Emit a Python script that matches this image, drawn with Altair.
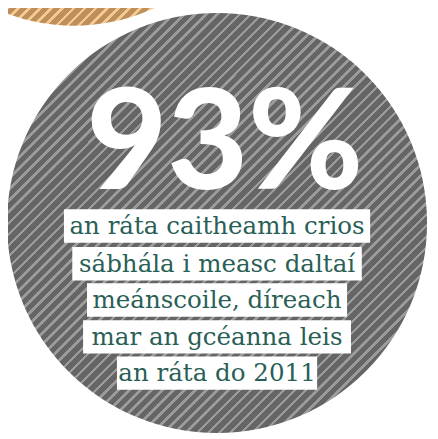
import altair as alt
import pandas as pd

# ---- content ----
headline_value = [93]
headline_suffix = ["%"]
text_lines = [
    "an ráta caitheamh crios",
    "sábhála i measc daltaí",
    "meánscoile, díreach",
    "mar an gcéanna leis",
    "an ráta do 2011",
]

# ---- layout constants (chart pixel space) ----
W, H = 430, 431
box_widths = [312, 295, 265, 273, 204]
line_centers = [218, 256.5, 293.5, 331, 368]
box_h = 34
text_cx = 213

def stripe_gradient(dark, light, n, light_frac, x2=1, y2=1):
    stops = []
    for i in range(n):
        a = i / n
        b = (i + light_frac) / n
        c = (i + 1) / n
        stops += [
            alt.GradientStop(color=light, offset=a),
            alt.GradientStop(color=light, offset=b),
            alt.GradientStop(color=dark, offset=b),
            alt.GradientStop(color=dark, offset=min(c, 1.0)),
        ]
    return alt.Gradient(gradient="linear", stops=stops, x1=0, y1=0, x2=x2, y2=y2)

xs = alt.Scale(domain=[0, W], range=[0, W])
ys = alt.Scale(domain=[0, H], range=[0, H])

one = pd.DataFrame({"v": [1]})

orange = alt.Chart(one).mark_point(
    shape="circle", filled=True, opacity=1, strokeWidth=0,
    fill=stripe_gradient("#bf8f5b", "#f3ca90", 69, 0.33),
).encode(x=alt.value(67), y=alt.value(-181), size=alt.value(390 ** 2))

grey = alt.Chart(one).mark_point(
    shape="circle", filled=True, opacity=1, strokeWidth=0,
    fill=stripe_gradient("#656565", "#9b9b9b", 76, 0.33),
).encode(x=alt.value(213), y=alt.value(215), size=alt.value(428 ** 2))

head = pd.DataFrame({"v": headline_value, "s": headline_suffix})
headline = alt.Chart(head).transform_calculate(
    label="format(datum.v, 'd') + datum.s"
).mark_text(
    font="Lato", fontWeight=900, fontSize=142, color="white",
    align="center", baseline="alphabetic",
).encode(x=alt.value(221), y=alt.value(180), text="label:N")

rows = pd.DataFrame({
    "line": text_lines,
    "xl": [text_cx - w / 2 for w in box_widths],
    "xr": [text_cx + w / 2 for w in box_widths],
    "yt": [c - box_h / 2 for c in line_centers],
    "yb": [c + box_h / 2 for c in line_centers],
    "yc": line_centers,
    "xc": [text_cx] * len(text_lines),
})

boxes = alt.Chart(rows).mark_rect(color="white").encode(
    x=alt.X("xl:Q", scale=xs, axis=None),
    x2="xr:Q",
    y=alt.Y("yt:Q", scale=ys, axis=None),
    y2="yb:Q",
)

texts = alt.Chart(rows).mark_text(
    font="DejaVu Serif", fontSize=25, color="#2a5f57",
    align="center", baseline="middle",
).encode(
    x=alt.X("xc:Q", scale=xs, axis=None),
    y=alt.Y("yc:Q", scale=ys, axis=None),
    text="line:N",
)

chart = alt.layer(orange, grey, headline, boxes, texts).properties(
    width=W, height=H, padding=0, autosize="none"
).configure_view(strokeWidth=0)

chart.save("out.html", embed_options={"renderer": "svg", "actions": False})
